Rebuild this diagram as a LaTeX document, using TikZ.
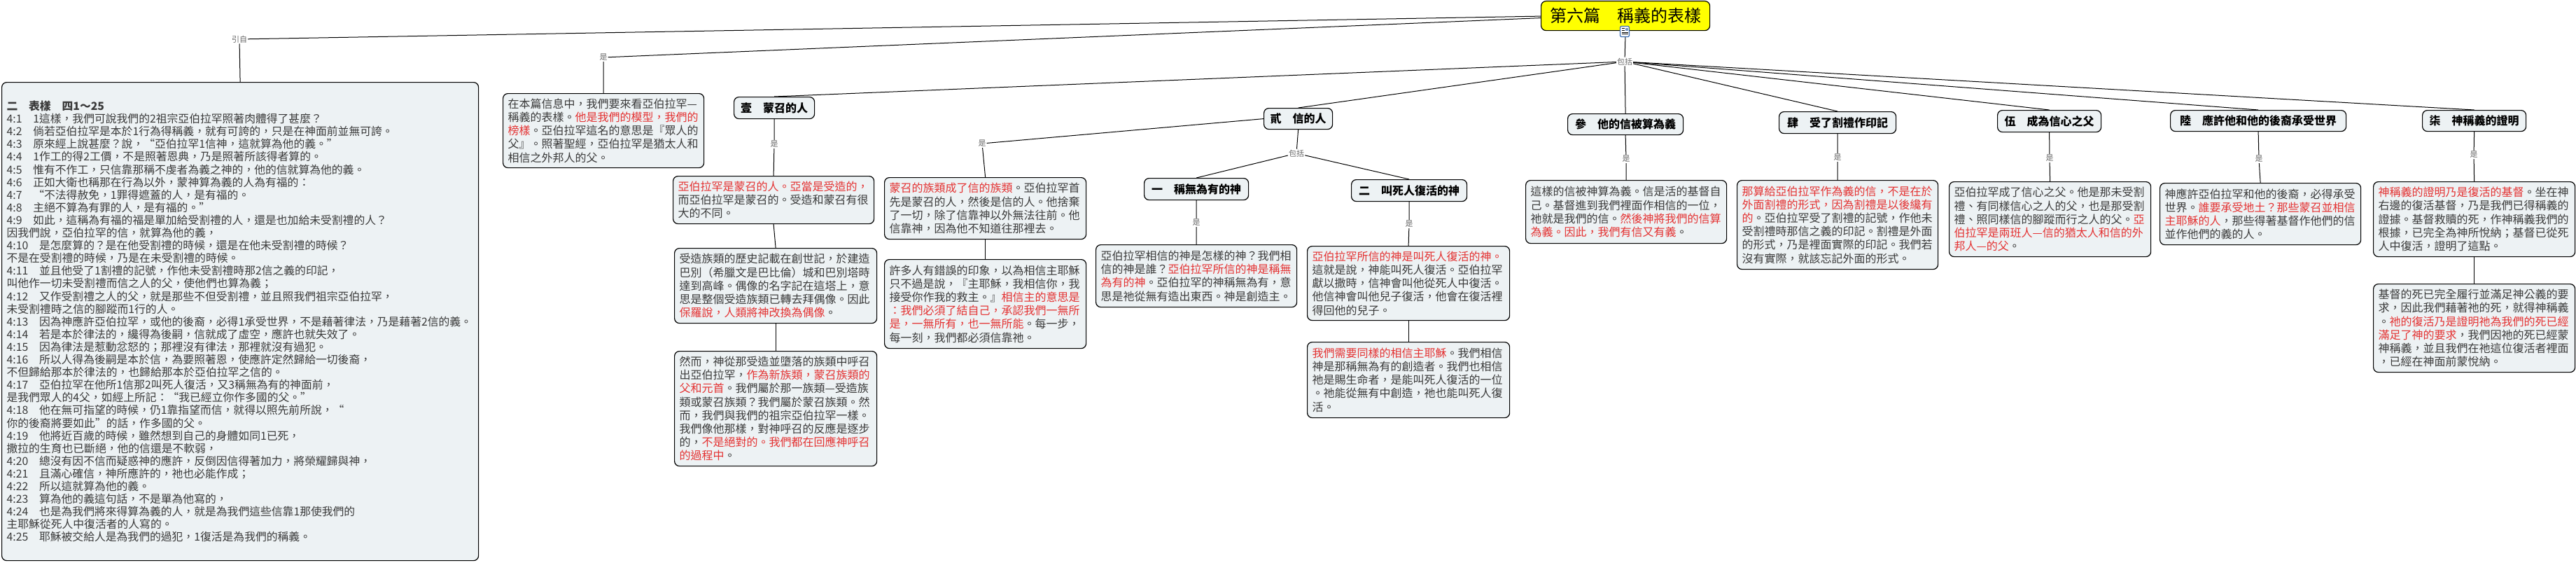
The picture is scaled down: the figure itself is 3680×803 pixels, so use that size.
\documentclass[tikz,border=0pt]{standalone}
\usepackage{fontspec}
\setmainfont{Noto Sans CJK TC}
\definecolor{txt}{RGB}{58,58,58}
\definecolor{redtxt}{RGB}{228,50,50}
\definecolor{boxfill}{RGB}{237,242,244}
\definecolor{lblgray}{RGB}{105,105,105}
\definecolor{titleyellow}{RGB}{255,255,0}
\definecolor{iconblue}{RGB}{60,110,180}
\newcommand\redt[1]{\textcolor{redtxt}{#1}}
\tikzset{
  tbox/.style={draw=black, line width=1.2pt, rounded corners=7pt, fill=boxfill, text=txt,
    anchor=north west, align=left, inner xsep=7pt, inner ysep=6pt,
    font=\fontsize{16}{19.2}\selectfont},
  hbox/.style={draw=black, line width=1.2pt, rounded corners=7pt, fill=boxfill, text=black,
    anchor=north west, align=center, inner sep=0pt,
    font=\bfseries\fontsize{16}{19}\selectfont},
  lbl/.style={font=\fontsize{11}{12}\selectfont, text=lblgray, inner sep=1pt},
  conn/.style={draw=black, line width=1pt},
}
\begin{document}
\begin{tikzpicture}[x=1pt,y=-1pt]
\useasboundingbox (0,0) rectangle (3680,803);
\fill[white] (0,0) rectangle (3680,803);

% root
\node[draw=black, line width=1.2pt, rounded corners=7pt, fill=titleyellow, anchor=north west,
  minimum width=241pt, minimum height=42pt, inner sep=0pt,
  font=\fontsize{24}{26}\selectfont] (root) at (2201,1) {第六篇　稱義的表樣};

% left scripture box
\node[tbox, text width=667pt, minimum height=683pt, inner ysep=5pt,
  font=\fontsize{15.8}{18.1}\selectfont] (left) at (2,117) {%
\textbf{二　表樣　四1～25}\\
4:1　1這樣，我們可說我們的2祖宗亞伯拉罕照著肉體得了甚麼？\\
4:2　倘若亞伯拉罕是本於1行為得稱義，就有可誇的，只是在神面前並無可誇。\\
4:3　原來經上說甚麼？說，“亞伯拉罕1信神，這就算為他的義。”\\
4:4　1作工的得2工價，不是照著恩典，乃是照著所該得者算的。\\
4:5　惟有不作工，只信靠那稱不虔者為義之神的，他的信就算為他的義。\\
4:6　正如大衛也稱那在行為以外，蒙神算為義的人為有福的：\\
4:7　“不法得赦免，1罪得遮蓋的人，是有福的。\\
4:8　主絕不算為有罪的人，是有福的。”\\
4:9　如此，這稱為有福的福是單加給受割禮的人，還是也加給未受割禮的人？\\
因我們說，亞伯拉罕的信，就算為他的義，\\
4:10　是怎麼算的？是在他受割禮的時候，還是在他未受割禮的時候？\\
不是在受割禮的時候，乃是在未受割禮的時候。\\
4:11　並且他受了1割禮的記號，作他未受割禮時那2信之義的印記，\\
叫他作一切未受割禮而信之人的父，使他們也算為義；\\
4:12　又作受割禮之人的父，就是那些不但受割禮，並且照我們祖宗亞伯拉罕，\\
未受割禮時之信的腳蹤而1行的人。\\
4:13　因為神應許亞伯拉罕，或他的後裔，必得1承受世界，不是藉著律法，乃是藉著2信的義。\\
4:14　若是本於律法的，纔得為後嗣，信就成了虛空，應許也就失效了。\\
4:15　因為律法是惹動忿怒的；那裡沒有律法，那裡就沒有過犯。\\
4:16　所以人得為後嗣是本於信，為要照著恩，使應許定然歸給一切後裔，\\
不但歸給那本於律法的，也歸給那本於亞伯拉罕之信的。\\
4:17　亞伯拉罕在他所1信那2叫死人復活，又3稱無為有的神面前，\\
是我們眾人的4父，如經上所記：“我已經立你作多國的父。”\\
4:18　他在無可指望的時候，仍1靠指望而信，就得以照先前所說，“\\
你的後裔將要如此”的話，作多國的父。\\
4:19　他將近百歲的時候，雖然想到自己的身體如同1已死，\\
撒拉的生育也已斷絕，他的信還是不軟弱，\\
4:20　總沒有因不信而疑惑神的應許，反倒因信得著加力，將榮耀歸與神，\\
4:21　且滿心確信，神所應許的，祂也必能作成；\\
4:22　所以這就算為他的義。\\
4:23　算為他的義這句話，不是單為他寫的，\\
4:24　也是為我們將來得算為義的人，就是為我們這些信靠1那使我們的\\
主耶穌從死人中復活者的人寫的。\\
4:25　耶穌被交給人是為我們的過犯，1復活是為我們的稱義。};

% intro box
\node[tbox, text width=273pt, minimum height=106pt] (intro) at (718,133) {%
在本篇信息中，我們要來看亞伯拉罕—\\
稱義的表樣。\redt{他是我們的模型，我們的}\\
\redt{榜樣}。亞伯拉罕這名的意思是『眾人的\\
父』。照著聖經，亞伯拉罕是猶太人和\\
相信之外邦人的父。};

% section headers
\node[hbox, minimum width=115pt, minimum height=31pt] (h1) at (1048,138) {壹　蒙召的人};
\node[hbox, minimum width=98pt, minimum height=30pt] (h2) at (1805,154) {貳　信的人};
\node[hbox, minimum width=165pt, minimum height=30pt] (h3) at (2239,162) {參　他的信被算為義};
\node[hbox, minimum width=167pt, minimum height=31pt] (h4) at (2541,159) {肆　受了割禮作印記};
\node[hbox, minimum width=148pt, minimum height=31pt] (h5) at (2853,157) {伍　成為信心之父};
\node[hbox, minimum width=251pt, minimum height=30pt] (h6) at (3100,157) {陸　應許他和他的後裔承受世界};
\node[hbox, minimum width=148pt, minimum height=30pt] (h7) at (3460,157) {柒　神稱義的證明};
\node[hbox, minimum width=149pt, minimum height=31pt] (hA) at (1634,254) {一　稱無為有的神};
\node[hbox, minimum width=165pt, minimum height=31pt] (hB) at (1930,256) {二　叫死人復活的神};

% section 1 boxes
\node[tbox, text width=273pt, minimum height=68pt] (b11) at (961,251) {%
\redt{亞伯拉罕是蒙召的人。亞當是受造的，}\\
而亞伯拉罕是蒙召的。受造和蒙召有很\\
大的不同。};
\node[tbox, text width=275pt, minimum height=107pt] (b12) at (963,354) {%
受造族類的歷史記載在創世記，於建造\\
巴別（希臘文是巴比倫）城和巴別塔時\\
達到高峰。偶像的名字記在這塔上，意\\
思是整個受造族類已轉去拜偶像。因此\\
\redt{保羅說，人類將神改換為偶像}。};
\node[tbox, text width=275pt, minimum height=164pt] (b13) at (963,501) {%
然而，神從那受造並墮落的族類中呼召\\
出亞伯拉罕，\redt{作為新族類，蒙召族類的}\\
\redt{父和元首}。我們屬於那一族類—受造族\\
類或蒙召族類？我們屬於蒙召族類。然\\
而，我們與我們的祖宗亞伯拉罕一樣。\\
我們像他那樣，對神呼召的反應是逐步\\
的，\redt{不是絕對的。我們都在回應神呼召}\\
\redt{的過程中}。};

% section 2 boxes
\node[tbox, text width=274pt, minimum height=88pt] (b21) at (1263,253) {%
\redt{蒙召的族類成了信的族類}。亞伯拉罕首\\
先是蒙召的人，然後是信的人。他捨棄\\
了一切，除了信靠神以外無法往前。他\\
信靠神，因為他不知道往那裡去。};
\node[tbox, text width=274pt, minimum height=127pt] (b22) at (1263,370) {%
許多人有錯誤的印象，以為相信主耶穌\\
只不過是說，『主耶穌，我相信你，我\\
接受你作我的救主。』\redt{相信主的意思是}\\
\redt{：我們必須了結自己，承認我們一無所}\\
\redt{是，一無所有，也一無所能}。每一步，\\
每一刻，我們都必須信靠祂。};
\node[tbox, text width=273pt, minimum height=89pt] (bA) at (1565,349) {%
亞伯拉罕相信的神是怎樣的神？我們相\\
信的神是誰？\redt{亞伯拉罕所信的神是稱無}\\
\redt{為有的神}。亞伯拉罕的神稱無為有，意\\
思是祂從無有造出東西。神是創造主。};
\node[tbox, text width=275pt, minimum height=106pt] (bB1) at (1867,351) {%
\redt{亞伯拉罕所信的神是叫死人復活的神。}\\
這就是說，神能叫死人復活。亞伯拉罕\\
獻以撒時，信神會叫他從死人中復活。\\
他信神會叫他兒子復活，他會在復活裡\\
得回他的兒子。};
\node[tbox, text width=275pt, minimum height=108pt] (bB2) at (1867,488) {%
\redt{我們需要同樣的相信主耶穌}。我們相信\\
神是那稱無為有的創造者。我們也相信\\
祂是賜生命者，是能叫死人復活的一位\\
。祂能從無有中創造，祂也能叫死人復\\
活。};

% sections 3-7 boxes
\node[tbox, text width=273pt, minimum height=90pt] (b3) at (2179,257) {%
這樣的信被神算為義。信是活的基督自\\
己。基督進到我們裡面作相信的一位，\\
祂就是我們的信。\redt{然後神將我們的信算}\\
\redt{為義。因此，我們有信又有義}。};
\node[tbox, text width=273pt, minimum height=127pt] (b4) at (2481,257) {%
\redt{那算給亞伯拉罕作為義的信，不是在於}\\
\redt{外面割禮的形式，因為割禮是以後纔有}\\
\redt{的}。亞伯拉罕受了割禮的記號，作他未\\
受割禮時那信之義的印記。割禮是外面\\
的形式，乃是裡面實際的印記。我們若\\
沒有實際，就該忘記外面的形式。};
\node[tbox, text width=274pt, minimum height=107pt] (b5) at (2784,259) {%
亞伯拉罕成了信心之父。他是那未受割\\
禮、有同樣信心之人的父，也是那受割\\
禮、照同樣信的腳蹤而行之人的父。\redt{亞}\\
\redt{伯拉罕是兩班人—信的猶太人和信的外}\\
\redt{邦人—的父}。};
\node[tbox, text width=273pt, minimum height=88pt] (b6) at (3085,261) {%
神應許亞伯拉罕和他的後裔，必得承受\\
世界。\redt{誰要承受地土？那些蒙召並相信}\\
\redt{主耶穌的人}，那些得著基督作他們的信\\
並作他們的義的人。};
\node[tbox, text width=274pt, minimum height=107pt] (b71) at (3390,259) {%
\redt{神稱義的證明乃是復活的基督}。坐在神\\
右邊的復活基督，乃是我們已得稱義的\\
證據。基督救贖的死，作神稱義我們的\\
根據，已完全為神所悅納；基督已從死\\
人中復活，證明了這點。};
\node[tbox, text width=274pt, minimum height=126pt] (b72) at (3390,405) {%
基督的死已完全履行並滿足神公義的要\\
求，因此我們藉著祂的死，就得神稱義\\
。\redt{祂的復活乃是證明祂為我們的死已經}\\
\redt{滿足了神的要求}，我們因祂的死已經蒙\\
神稱義，並且我們在祂這位復活者裡面\\
，已經在神面前蒙悅納。};

% linking labels
\node[lbl] (yinzi) at (342,56) {引自};
\node[lbl] (shi0) at (862,82) {是};
\node[lbl] (hub) at (2321,88) {包括};
\node[lbl] (s1) at (1106,206) {是};
\node[lbl] (s2) at (1403,205) {是};
\node[lbl] (hub2) at (1852,219) {包括};
\node[lbl] (sA) at (1709,318) {是};
\node[lbl] (sB) at (2013,320) {是};
\node[lbl] (s3) at (2323,227) {是};
\node[lbl] (s4) at (2625,225) {是};
\node[lbl] (s5) at (2928,226) {是};
\node[lbl] (s6) at (3227,227) {是};
\node[lbl] (s7) at (3534,221) {是};

% connectors
\draw[conn] (yinzi) -- ([yshift=-0.5pt]root.west);
\draw[conn] (yinzi) -- (left.north);
\draw[conn] (shi0) -- ([yshift=-3pt]root.west);
\draw[conn] (shi0) -- (intro.north);
\draw[conn] (root.south) -- (hub);
\foreach \n in {h1,h2,h3,h4,h5,h6,h7} \draw[conn] (hub) -- (\n.north);
\draw[conn] (h1.south) -- (s1);
\draw[conn] (s1) -- (b11.north);
\draw[conn] (b11.south) -- (b12.north);
\draw[conn] (b12.south) -- (b13.north);
\draw[conn] (h2.west) -- (s2);
\draw[conn] (s2) -- (b21.north);
\draw[conn] (b21.south) -- (b22.north);
\draw[conn] (h2.south) -- (hub2);
\draw[conn] (hub2) -- (hA.north);
\draw[conn] (hub2) -- (hB.north);
\draw[conn] (hA.south) -- (sA);
\draw[conn] (sA) -- (bA.north);
\draw[conn] (hB.south) -- (sB);
\draw[conn] (sB) -- (bB1.north);
\draw[conn] (bB1.south) -- (bB2.north);
\draw[conn] (h3.south) -- (s3);
\draw[conn] (s3) -- (b3.north);
\draw[conn] (h4.south) -- (s4);
\draw[conn] (s4) -- (b4.north);
\draw[conn] (h5.south) -- (s5);
\draw[conn] (s5) -- (b5.north);
\draw[conn] (h6.south) -- (s6);
\draw[conn] (s6) -- (b6.north);
\draw[conn] (h7.south) -- (s7);
\draw[conn] (s7) -- (b71.north);
\draw[conn] (b71.south) -- (b72.north);

% note icon under the title
\node[draw=iconblue, line width=1.2pt, fill=white, rounded corners=1.5pt,
  minimum width=13pt, minimum height=15pt, inner sep=0pt] (icon) at (2321,45) {};
\fill[iconblue!70] ([xshift=0.5pt,yshift=1pt]icon.center) rectangle ([xshift=4.5pt,yshift=5.5pt]icon.center);
\draw[black, line width=0.8pt] ([xshift=-4.5pt,yshift=4.5pt]icon.center) -- ++(4pt,0);
\draw[black, line width=0.8pt] ([xshift=-4.5pt,yshift=2pt]icon.center) -- ++(4pt,0);
\draw[black, line width=0.8pt] ([xshift=-4.5pt,yshift=-1pt]icon.center) -- ++(9pt,0);
\draw[black, line width=0.8pt] ([xshift=-4.5pt,yshift=-3.5pt]icon.center) -- ++(9pt,0);
\end{tikzpicture}
\end{document}
